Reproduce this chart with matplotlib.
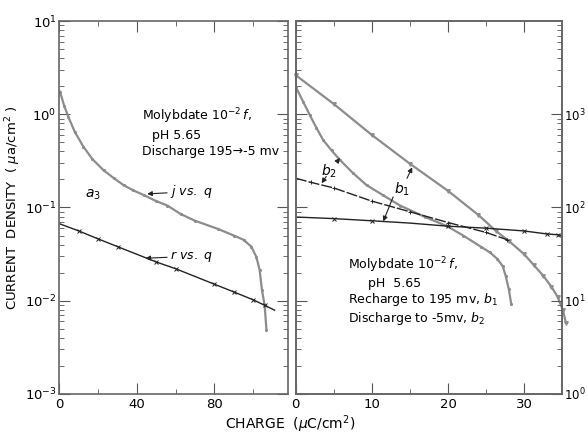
import numpy as np
import matplotlib
matplotlib.use("Agg")
import matplotlib.pyplot as plt

# left panel: discharge 195 -> -5 mv (a3)
jq_x = [0.3, 2.5, 4.6, 8, 12.4, 17, 22.8, 28, 33.1, 38, 43.5, 50, 55.7, 62.6,
        70, 81.7, 90, 95, 99, 101.6, 103.3, 104.5, 105.9, 106.8]
jq_y = [1.75, 1.23, 0.94, 0.645, 0.449, 0.331, 0.251, 0.207, 0.174, 0.153,
        0.136, 0.117, 0.105, 0.085, 0.072, 0.059, 0.050, 0.045, 0.038,
        0.0295, 0.0214, 0.0130, 0.0089, 0.0049]
rq_x = [0, 10, 20, 30, 50, 60, 80, 90, 100, 106, 111]
rq_y = [0.067, 0.056, 0.046, 0.038, 0.026, 0.022, 0.015, 0.0124, 0.0102,
        0.0089, 0.0079]

# right panel: recharge to 195 mv (b1) and discharge to -5 mv (b2)
b1_jx = [0, 5, 10, 15, 20, 24, 26.3, 28, 30, 31.3, 32.5, 33.6, 34.4, 35.1, 35.5]
b1_jy = [2.63, 1.29, 0.60, 0.295, 0.151, 0.083, 0.056, 0.0437, 0.0316,
         0.024, 0.0186, 0.0141, 0.011, 0.0079, 0.0058]
b1_rx = [0, 5, 10, 15, 20, 25, 30, 33, 34.4, 35]
b1_ry = [0.079, 0.076, 0.072, 0.068, 0.063, 0.060, 0.056, 0.052, 0.051, 0.050]

b2_jx = [0, 1, 1.85, 2.7, 3.6, 4.7, 5.8, 7.5, 9.3, 11.5, 13.7, 17, 19.9, 22,
         24.3, 25.5, 26.5, 27.2, 27.6, 28, 28.3]
b2_jy = [1.97, 1.35, 0.98, 0.72, 0.53, 0.41, 0.324, 0.235, 0.174, 0.135,
         0.105, 0.079, 0.063, 0.050, 0.038, 0.033, 0.028, 0.0234, 0.0182,
         0.0132, 0.0093]
b2_rx = [0, 2, 5, 10, 15, 20, 25, 27.8]
b2_ry = [0.206, 0.186, 0.162, 0.117, 0.090, 0.069, 0.054, 0.045]

GRAY = "#8c8c8c"
DARK = "#222222"

plt.rcParams['font.family'] = ['DejaVu Sans']

fig = plt.figure(figsize=(5.88, 4.41), dpi=100)
ax1 = fig.add_axes([0.101, 0.107, 0.389, 0.845])
ax2 = fig.add_axes([0.503, 0.107, 0.453, 0.845], sharey=ax1)

for ax in (ax1, ax2):
    ax.set_yscale('log')
    ax.set_ylim(1e-3, 1e1)
    ax.tick_params(which='both', direction='in', top=True, labelsize=9.5,
                   color='#555', pad=3)
    ax.tick_params(which='major', length=8)
    ax.tick_params(which='minor', length=3.5)
    for s in ax.spines.values():
        s.set_color('#666')
        s.set_linewidth(1.2)

ax1.tick_params(which='both', right=True)
ax1.tick_params(axis='y', pad=2)
ax2.tick_params(which='both', left=True, right=False, labelleft=False)

# left panel
ax1.plot(jq_x, jq_y, color=GRAY, lw=1.6, marker='.', ms=2.5)
ax1.plot(rq_x, rq_y, color=DARK, lw=1.0, marker='x', ms=3, mew=0.7,
         markevery=list(range(1, 10)))
ax1.set_xlim(0, 118)
ax1.set_xticks([0, 40, 80])
ax1.set_xticks([20, 60, 100], minor=True)

ax1.text(0.361, 0.745, r'Molybdate $10^{-2}\,f$,', transform=ax1.transAxes,
         fontsize=9, va='center')
ax1.text(0.403, 0.694, 'pH 5.65', transform=ax1.transAxes, fontsize=9,
         va='center')
ax1.text(0.361, 0.65, 'Discharge 195\u2192-5 mv', transform=ax1.transAxes,
         fontsize=9, va='center')
ax1.text(17.4, 0.136, r'$a_3$', fontsize=10, ha='center', va='center')

arrow = dict(arrowstyle='-|>', color=DARK, lw=0.8, mutation_scale=7,
             shrinkA=0, shrinkB=0)
ax1.annotate(r'$j$ $vs.$ $q$', xy=(45.3, 0.14), xytext=(57, 0.148),
             fontsize=9, va='center', arrowprops=arrow)
ax1.annotate(r'$r$ $vs.$ $q$', xy=(44.4, 0.0285), xytext=(57, 0.030),
             fontsize=9, va='center', arrowprops=arrow)

# right panel
ax2.plot(b1_jx, b1_jy, color=GRAY, lw=1.6, marker='v', ms=2.5, clip_on=False)
ax2.plot(b2_jx, b2_jy, color=GRAY, lw=1.6, marker='.', ms=2.5)
ax2.plot(b1_rx, b1_ry, color=DARK, lw=1.0, marker='x', ms=3, mew=0.7,
         markevery=[1, 2, 4, 5, 6, 7, 8])
ax2.plot(b2_rx, b2_ry, color=DARK, lw=1.0, ls=(0, (8, 1.5)), marker='+',
         ms=3.5, mew=0.7, markevery=list(range(1, 8)))
ax2.set_xlim(0, 35)
ax2.set_xticks([0, 10, 20, 30])
ax2.set_xticks([5, 15, 25], minor=True)

ax2.annotate(r'$b_2$', xy=(5.8, 0.34), xytext=(4.4, 0.242), fontsize=10,
             ha='center', va='center', arrowprops=arrow)
ax2.annotate('', xy=(3.4, 0.182), xytext=(4.0, 0.215), arrowprops=arrow)
ax2.annotate(r'$b_1$', xy=(15.3, 0.27), xytext=(13.9, 0.155), fontsize=10,
             ha='center', va='center', arrowprops=arrow)
ax2.annotate('', xy=(11.5, 0.071), xytext=(12.8, 0.13), arrowprops=arrow)

ax2.text(0.197, 0.346, r'Molybdate $10^{-2}\,f$,', transform=ax2.transAxes,
         fontsize=9, va='center')
ax2.text(0.27, 0.297, 'pH  5.65', transform=ax2.transAxes, fontsize=9,
         va='center')
ax2.text(0.197, 0.252, r'Recharge to 195 mv, $b_1$', transform=ax2.transAxes,
         fontsize=9, va='center')
ax2.text(0.197, 0.203, r'Discharge to -5mv, $b_2$', transform=ax2.transAxes,
         fontsize=9, va='center')

axr = ax2.twinx()
axr.set_yscale('log')
axr.set_ylim(1e0, 1e4)
axr.set_yticks([1e0, 1e1, 1e2, 1e3])
axr.tick_params(which='both', direction='in', labelsize=8.5, color='#555',
                pad=1.5)
axr.tick_params(which='major', length=8)
axr.tick_params(which='minor', length=3.5)
for s in axr.spines.values():
    s.set_color('#666')
    s.set_linewidth(1.2)

fig.text(0.022, 0.53, r'CURRENT  DENSITY  ( $\mu$a/cm$^2$ )', rotation=90,
         ha='center', va='center', fontsize=9.5)
fig.text(0.493, 0.039, r'CHARGE  ($\mu$C/cm$^2$)', ha='center', va='center',
         fontsize=10)

fig.savefig('out.png', dpi=100)
